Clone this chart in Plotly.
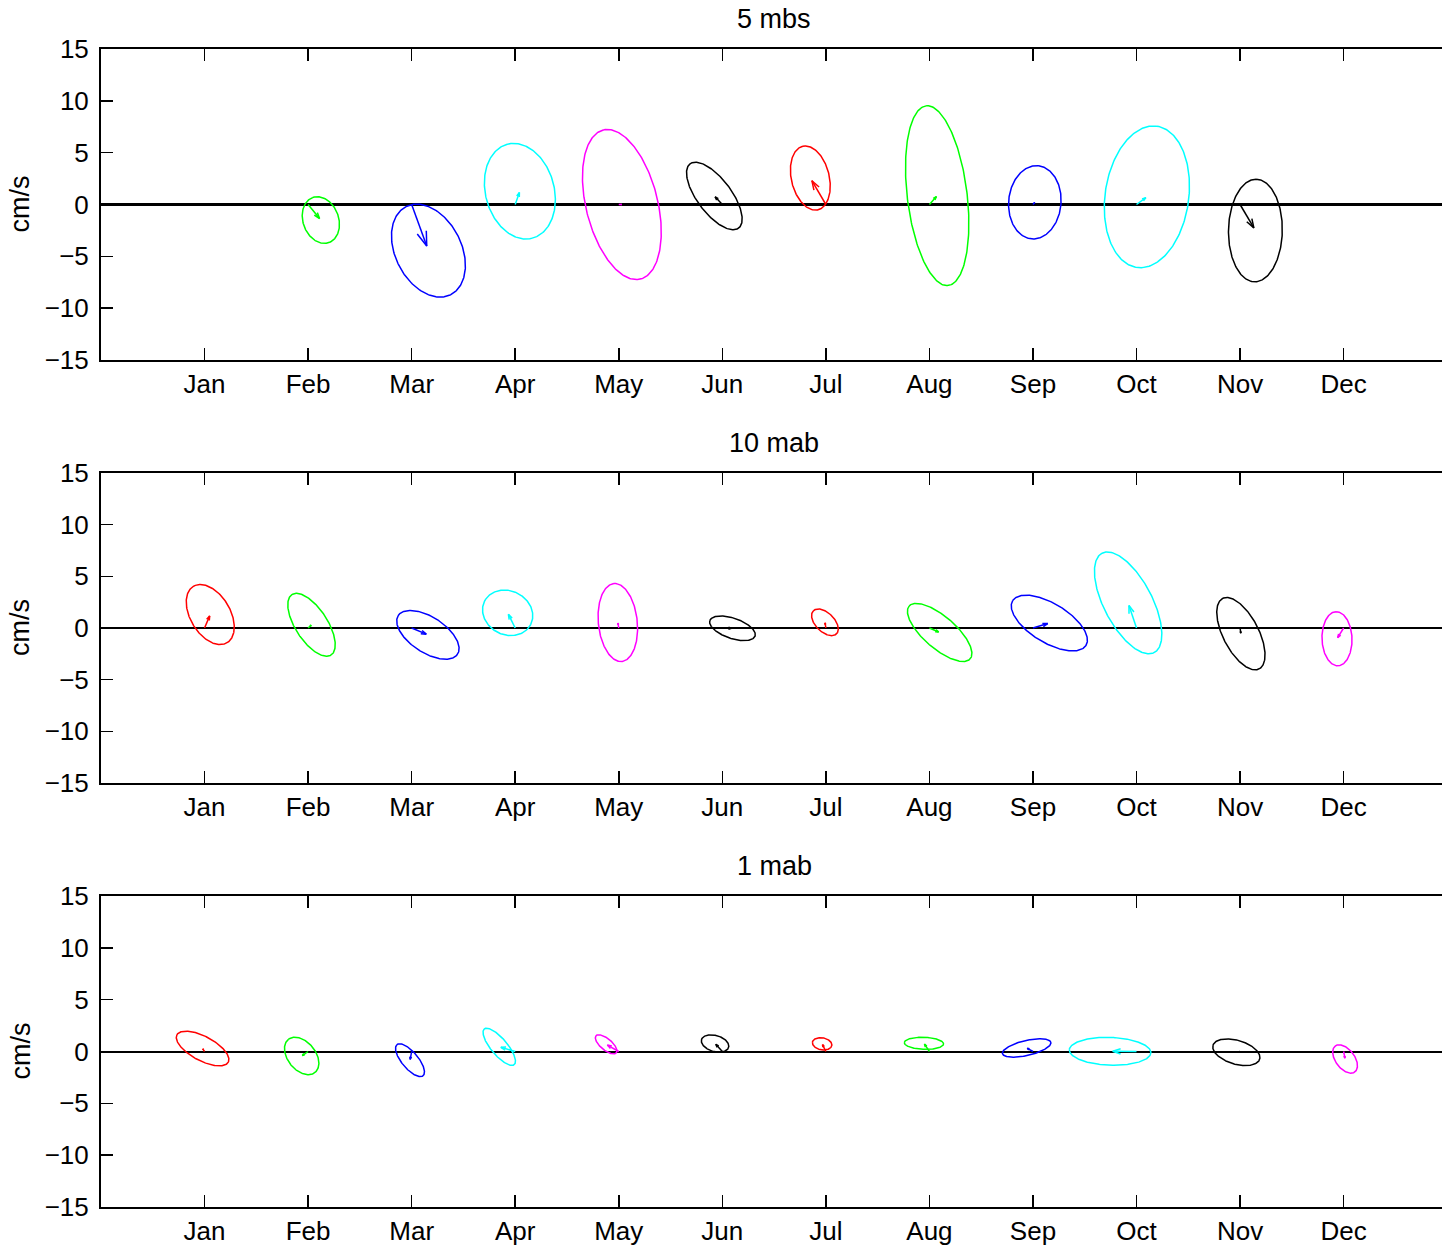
import numpy as np
import plotly.graph_objects as go

MONTHS = ['Jan', 'Feb', 'Mar', 'Apr', 'May', 'Jun', 'Jul', 'Aug', 'Sep', 'Oct', 'Nov', 'Dec']
MONTH_COLORS = ['#ff0000', '#00ff00', '#0000ff', '#00ffff', '#ff00ff', '#000000',
                '#ff0000', '#00ff00', '#0000ff', '#00ffff', '#000000', '#ff00ff']
Y_TICKS = [-15, -10, -5, 0, 5, 10, 15]
PANEL_TITLES = ['5 mbs', '10 mab', '1 mab']

# ---- 5 mbs (Feb..Nov) : mean (u, v) cm/s, ellipse semi-major/minor cm/s, orientation deg
months_5mbs = [2, 3, 4, 5, 6, 7, 8, 9, 10, 11]
u_5mbs = [1.23, 1.62, 0.45, 0.30, -0.77, -1.50, 0.75, 0.18, 1.00, 1.48]
v_5mbs = [-1.50, -4.45, 1.28, 0.00, 0.82, 2.55, 0.85, 0.21, 0.74, -2.51]
major_5mbs = [2.31, 4.76, 4.69, 7.41, 3.89, 3.15, 8.73, 3.54, 6.88, 4.95]
minor_5mbs = [1.72, 3.19, 3.32, 3.46, 1.65, 1.83, 2.89, 2.53, 4.04, 2.60]
theta_5mbs = [110, 117, 105, 104, 127, 103.5, 97, 85, 82, 89]

# ---- 10 mab (Jan..Dec)
months_10mab = [1, 2, 3, 4, 5, 6, 7, 8, 9, 10, 11, 12]
u_10mab = [0.55, 0.33, 1.57, -0.73, -0.09, 0.98, -0.09, 0.99, 1.58, -0.81, 0.08, -0.64]
v_10mab = [1.30, 0.31, -0.66, 1.47, 0.53, -0.03, 0.55, -0.43, 0.48, 2.43, -0.55, -1.04]
major_10mab = [3.18, 3.48, 3.42, 2.50, 3.79, 2.31, 1.58, 3.90, 4.15, 5.43, 3.84, 2.62]
minor_10mab = [1.93, 1.55, 1.72, 2.12, 1.88, 0.98, 0.91, 1.55, 1.89, 2.33, 1.72, 1.45]
theta_10mab = [120.6, 122.8, 146.8, 153, 95.8, 161, 135, 139, 148.6, 117.6, 117.3, 92]

# ---- 1 mab (Jan..Dec)
months_1mab = [1, 2, 3, 4, 5, 6, 7, 8, 9, 10, 11, 12]
u_1mab = [-0.19, -0.62, -0.16, -1.54, -1.22, -0.70, -0.36, -0.53, -0.61, -2.55, -0.36, 0.14]
v_1mab = [0.29, -0.43, -0.84, 0.45, 0.69, 0.77, 0.74, 0.79, 0.34, 0.02, -0.07, -0.72]
major_1mab = [2.81, 2.05, 1.96, 2.25, 1.28, 1.36, 0.95, 1.90, 2.40, 3.94, 2.35, 1.57]
minor_1mab = [1.17, 1.35, 0.79, 0.79, 0.55, 0.78, 0.58, 0.58, 0.72, 1.34, 1.15, 0.92]
theta_1mab = [152, 129, 130, 130, 140, 164, 170, 178, 13, 178, 163.5, 127]

panels = [
    (months_5mbs, u_5mbs, v_5mbs, major_5mbs, minor_5mbs, theta_5mbs),
    (months_10mab, u_10mab, v_10mab, major_10mab, minor_10mab, theta_10mab),
    (months_1mab, u_1mab, v_1mab, major_1mab, minor_1mab, theta_1mab),
]

X_PER_CMS = 0.1      # 1 cm/s drawn as 0.1 month on the time axis (isotropic aspect)
ARROW_SCALE = 0.9    # quiver autoscale factor
HEAD_ALPHA = 0.33
HEAD_BETA = 0.33

fig = go.Figure()
t = np.linspace(0, 2 * np.pi, 241)

for p, (mons, us, vs, As, Bs, Ths) in enumerate(panels):
    xa = 'x' if p == 0 else f'x{p+1}'
    ya = 'y' if p == 0 else f'y{p+1}'
    for m, u, v, a, b, th in zip(mons, us, vs, As, Bs, Ths):
        col = MONTH_COLORS[m - 1]
        r = np.deg2rad(th)
        ex = u + a * np.cos(t) * np.cos(r) - b * np.sin(t) * np.sin(r)
        ey = v + a * np.cos(t) * np.sin(r) + b * np.sin(t) * np.cos(r)
        U, V = ARROW_SCALE * u, ARROW_SCALE * v
        h1x = U - HEAD_ALPHA * (U + HEAD_BETA * V)
        h1y = V - HEAD_ALPHA * (V - HEAD_BETA * U)
        h2x = U - HEAD_ALPHA * (U - HEAD_BETA * V)
        h2y = V - HEAD_ALPHA * (V + HEAD_BETA * U)
        xs = list(m + ex * X_PER_CMS) + [None, m, m + U * X_PER_CMS, None,
                                         m + h1x * X_PER_CMS, m + U * X_PER_CMS, m + h2x * X_PER_CMS]
        ys = list(ey) + [None, 0, V, None, h1y, V, h2y]
        fig.add_trace(go.Scatter(x=xs, y=ys, mode='lines', xaxis=xa, yaxis=ya,
                                 line=dict(color=col, width=1.5), showlegend=False,
                                 hoverinfo='skip'))

W, H = 1442, 1249
ML, MR, MT, MB = 101, 0, 49, 42
plot_h = H - MT - MB
tops = [49, 473, 896]
bots = [360, 783, 1207]
FONT = 'Liberation Sans, Arial, Helvetica, sans-serif'
TICK_SIZE = 26
TITLE_SIZE = 27

layout = dict(
    width=W, height=H,
    margin=dict(l=ML, r=MR, t=MT, b=MB),
    paper_bgcolor='white', plot_bgcolor='white',
    font=dict(family=FONT, size=TICK_SIZE, color='black'),
    showlegend=False,
)
annotations = []
for p in range(3):
    d0 = (H - MB - bots[p]) / plot_h
    d1 = (H - MB - tops[p]) / plot_h
    xk = 'xaxis' if p == 0 else f'xaxis{p+1}'
    yk = 'yaxis' if p == 0 else f'yaxis{p+1}'
    ya = 'y' if p == 0 else f'y{p+1}'
    xa = 'x' if p == 0 else f'x{p+1}'
    layout[xk] = dict(domain=[0, 1], anchor=ya, range=[0, 12.95],
                      tickmode='array', tickvals=list(range(1, 13)), ticktext=MONTHS,
                      ticks='inside', ticklen=12, tickwidth=1.5, tickcolor='black',
                      showline=True, linewidth=2, linecolor='black', mirror='ticks',
                      showgrid=False, zeroline=False,
                      tickfont=dict(family=FONT, size=TICK_SIZE, color='black'))
    layout[yk] = dict(domain=[d0, d1], anchor=xa, range=[-15, 15],
                      tickmode='array', tickvals=Y_TICKS,
                      ticks='inside', ticklen=12, tickwidth=1.5, tickcolor='black',
                      showline=True, linewidth=2, linecolor='black', mirror=False,
                      showgrid=False, zeroline=True, zerolinecolor='black',
                      zerolinewidth=3 if p == 0 else 2, ticklabelstandoff=5,
                      tickfont=dict(family=FONT, size=TICK_SIZE, color='black'))
    layout[f'yaxis{p+4}'] = dict(overlaying=ya, side='right', anchor=xa, range=[-15, 15],
                                 tickmode='array', tickvals=Y_TICKS,
                                 ticks='inside', ticklen=8, tickwidth=1.5, tickcolor='black',
                                 showticklabels=False, showline=False, showgrid=False,
                                 zeroline=False)
    annotations.append(dict(text=PANEL_TITLES[p], xref='paper', yref='paper',
                            x=(774 - ML) / (W - ML - MR), y=(H - MB - (tops[p] - 30)) / plot_h,
                            xanchor='center', yanchor='middle', showarrow=False,
                            font=dict(family=FONT, size=TITLE_SIZE, color='black')))
    annotations.append(dict(text='cm/s', xref='paper', yref='paper', textangle=-90,
                            x=(20 - ML) / (W - ML - MR), y=(d0 + d1) / 2,
                            xanchor='center', yanchor='middle', showarrow=False,
                            font=dict(family=FONT, size=TITLE_SIZE, color='black')))
layout['annotations'] = annotations
fig.update_layout(**layout)

fig.write_html('out.html',
               config={'displayModeBar': False, 'staticPlot': True},
               post_script="document.body.style.margin='0';document.body.style.padding='0';"
                           "document.documentElement.style.overflow='hidden';")
